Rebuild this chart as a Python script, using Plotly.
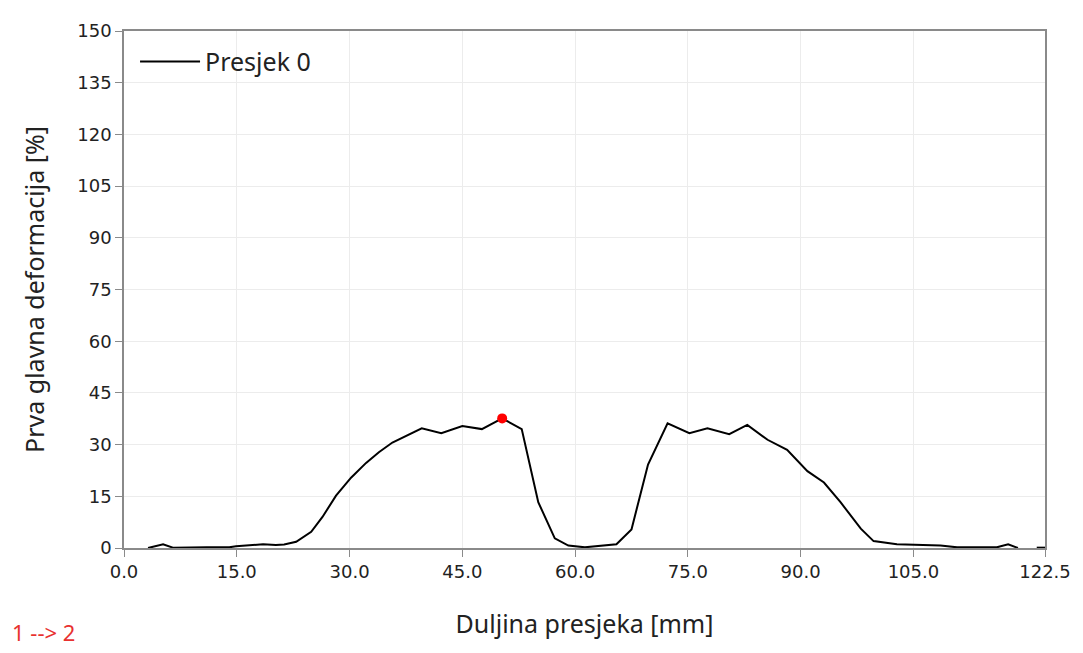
import plotly.graph_objects as go

# profil presjeka 0 (ocitano sa slike)
duljina = [3.2, 5.2, 6.5, 8.3, 11.0, 14.0, 14.9, 18.5, 20.2, 21.3, 22.9, 24.9, 26.4,
           28.2, 30.2, 32.2, 33.9, 35.7, 37.5, 39.6, 42.2, 45.0, 47.6, 50.3, 52.9,
           55.1, 57.3, 59.1, 61.3, 63.5, 65.5, 67.5, 69.7, 72.3, 75.2, 77.6, 80.5,
           82.9, 85.6, 88.2, 90.9, 93.1, 95.3, 98.0, 99.7, 102.8, 105.0, 108.6,
           110.8, 116.1, 117.6, 118.9, 120.2, 121.4, 122.5]
deformacija = [0.0, 1.1, 0.1, 0.2, 0.2, 0.2, 0.5, 1.1, 0.9, 1.0, 1.8, 4.7, 9.0,
               15.2, 20.4, 24.7, 27.8, 30.6, 32.5, 34.7, 33.3, 35.4, 34.5, 37.6, 34.5,
               13.3, 2.8, 0.7, 0.2, 0.6, 1.1, 5.4, 24.2, 36.2, 33.3, 34.7, 33.0,
               35.7, 31.4, 28.5, 22.3, 19.0, 13.3, 5.6, 2.0, 1.1, 0.9, 0.7,
               0.2, 0.2, 1.1, 0.0, None, 0.1, 0.1]

max_x = [50.3]
max_y = [37.6]

x_ticks = [0, 15, 30, 45, 60, 75, 90, 105, 122.5]
x_labels = ['0.0', '15.0', '30.0', '45.0', '60.0', '75.0', '90.0', '105.0', '122.5']
y_ticks = [0, 15, 30, 45, 60, 75, 90, 105, 120, 135, 150]

fig = go.Figure()

fig.add_trace(go.Scatter(
    x=duljina, y=deformacija, mode='lines', name='Presjek 0',
    line=dict(color='black', width=2), connectgaps=False
))

# tocka maksimuma
fig.add_trace(go.Scatter(
    x=max_x, y=max_y, mode='markers', showlegend=False,
    marker=dict(color='#ff0000', size=10)
))

tick_font = dict(family='DejaVu Sans', size=18, color='#222')
title_font = dict(family='Noto Sans', size=25, color='#222')

fig.update_xaxes(
    range=[0, 122.5], tickvals=x_ticks, ticktext=x_labels,
    showline=True, linecolor='#8a8a8a', linewidth=1.5, mirror=True,
    ticks='outside', ticklen=7, tickcolor='#8a8a8a',
    showgrid=True, gridcolor='#ececec', zeroline=False,
    tickfont=tick_font,
    title=dict(text='Duljina presjeka [mm]', font=title_font, standoff=34)
)
fig.update_yaxes(
    range=[0, 150], tickvals=y_ticks,
    showline=True, linecolor='#8a8a8a', linewidth=1.5, mirror=True,
    ticks='outside', ticklen=7, tickcolor='#8a8a8a',
    showgrid=True, gridcolor='#ececec', zeroline=False,
    tickfont=tick_font,
    title=dict(text='Prva glavna deformacija [%]', font=title_font, standoff=26)
)

# oznaka smjera presjeka, dolje lijevo
fig.add_annotation(
    text='1 --> 2', xref='paper', yref='paper', x=-0.124, y=-0.163,
    xanchor='left', yanchor='middle', showarrow=False,
    font=dict(family='Noto Sans', size=22, color='#e8312f')
)

# stranica ima marginu 8px, pa je figura manja za toliko
fig.update_layout(
    width=1075, height=645,
    margin=dict(l=116, r=35, t=16, b=105),
    paper_bgcolor='white', plot_bgcolor='white',
    showlegend=True,
    legend=dict(x=0.012, y=0.985, xanchor='left', yanchor='top',
                bgcolor='rgba(0,0,0,0)', font=title_font, itemwidth=60)
)

fig.write_html("out.html")
